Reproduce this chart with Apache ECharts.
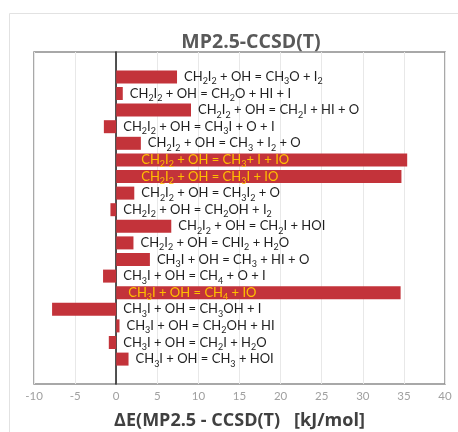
<!DOCTYPE html>
<html>
<head>
<meta charset="utf-8">
<script src="https://cdn.jsdelivr.net/npm/echarts@6/dist/echarts.min.js"></script>
<style>
html,body{margin:0;padding:0;background:#fff;}
#chart{width:458px;height:432px;}
</style>
</head>
<body>
<div id="chart"></div>
<script>
// Reactions (digits are rendered as subscripts)
const reactions = [
  'CH2I2 + OH = CH3O + I2',
  'CH2I2 + OH = CH2O + HI + I',
  'CH2I2 + OH = CH2I + HI + O',
  'CH2I2 + OH = CH3I + O + I',
  'CH2I2 + OH = CH3 + I2 + O',
  'CH2I2 + OH = CH3+ I + IO',
  'CH2I2 + OH = CH3I + IO',
  'CH2I2 + OH = CH3I2 + O',
  'CH2I2 + OH = CH2OH + I2',
  'CH2I2 + OH = CH2I + HOI',
  'CH2I2 + OH = CHI2 + H2O',
  'CH3I + OH = CH3 + HI + O',
  'CH3I + OH = CH4 + O + I',
  'CH3I + OH = CH4 + IO',
  'CH3I + OH = CH3OH + I',
  'CH3I + OH = CH2OH + HI',
  'CH3I + OH = CH2I + H2O',
  'CH3I + OH = CH3 + HOI'
];
// ΔE(MP2.5 - CCSD(T)) in kJ/mol
const deltaE = [7.4, 0.8, 9.1, -1.5, 3.0, 35.4, 34.7, 2.2, -0.7, 6.7, 2.1, 4.1, -1.6, 34.6, -7.8, 0.4, -0.9, 1.5];
const xTicks = { min: -10, max: 40, interval: 5 };
const chartTitle = 'MP2.5-CCSD(T)';
const xAxisTitle = 'ΔE(MP2.5 - CCSD(T)   [kJ/mol]';

const LABEL_FONT = 'Lato, "Open Sans", sans-serif';
const TITLE_FONT = '"Open Sans", Lato, sans-serif';
const insideLabelPad = { 5: 25, 6: 25, 13: 12 };

function toRich(s) {
  return s.replace(/(\d)/g, '{s|$1}');
}

// one empty slot above and below the reactions
const cats = ['top'].concat(reactions.map((_, i) => 'r' + i)).concat(['bottom']);
const seriesData = [null];
deltaE.forEach((v, i) => {
  const hl = v > 30;
  const color = hl ? '#FFC000' : '#1f1f1f';
  seriesData.push({
    value: v,
    label: {
      show: true,
      position: hl ? 'insideLeft' : 'right',
      distance: hl ? insideLabelPad[i] : 7,
      formatter: toRich(reactions[i]),
      color: color,
      fontSize: 13,
      fontFamily: LABEL_FONT,
      rich: {
        s: { fontSize: 9, color: color, fontFamily: LABEL_FONT, padding: [9, 0, 0, 0] }
      }
    }
  });
});
seriesData.push(null);

const chart = echarts.init(document.getElementById('chart'), null, { renderer: 'canvas' });
chart.setOption({
  animation: false,
  backgroundColor: '#fff',
  title: {
    text: chartTitle,
    left: 246, top: 27, textAlign: 'center',
    textStyle: { fontFamily: TITLE_FONT, fontSize: 19.5, fontWeight: 'bold', color: '#595959' }
  },
  graphic: [{
    type: 'rect', left: 7, top: 11, silent: true,
    shape: { width: 460, height: 430 },
    style: { fill: 'none', stroke: '#e2e2e2', lineWidth: 1 }
  }],
  grid: { left: 34, right: 13, top: 52, bottom: 48, show: true, borderColor: '#8c8c8c', borderWidth: 1.5,
          containLabel: false, outerBoundsMode: 'none' },
  xAxis: {
    type: 'value', min: xTicks.min, max: xTicks.max, interval: xTicks.interval,
    axisLine: { show: false }, axisTick: { show: false },
    splitLine: { show: true, lineStyle: { color: '#e8e8e8', width: 1 } },
    axisLabel: { color: '#a0a0a0', fontSize: 11.5, fontFamily: LABEL_FONT, margin: 6 },
    name: xAxisTitle, nameLocation: 'middle', nameGap: 28,
    nameTextStyle: { fontFamily: TITLE_FONT, fontSize: 18, fontWeight: 'bold', color: '#404040' }
  },
  yAxis: {
    type: 'category', inverse: true, data: cats,
    axisLine: { show: true, onZero: true, lineStyle: { color: '#1a1a1a', width: 1.5 } },
    axisTick: { show: false }, axisLabel: { show: false }, splitLine: { show: false }
  },
  series: [{
    type: 'bar', data: seriesData, barWidth: 13,
    itemStyle: { color: '#C3333A' }
  }]
});
</script>
</body>
</html>
